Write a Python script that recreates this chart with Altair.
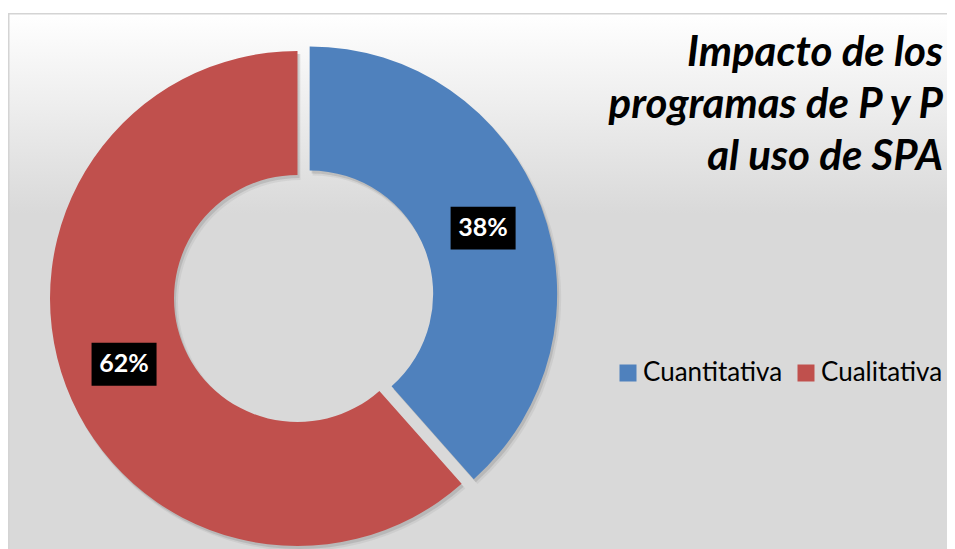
import altair as alt
import pandas as pd

# ---- data ----
CATEGORIES = ["Cuantitativa", "Cualitativa"]
VALUES = [5, 8]
COLORS = ["#4F81BD", "#C0504D"]
TITLE_LINES = ["Impacto de los", "programas de P y P", "al uso de SPA"]

df = pd.DataFrame({"category": CATEGORIES, "value": VALUES, "order": list(range(len(CATEGORIES)))})
bg_df = pd.DataFrame({"bg": [0]})

W, H = 939, 541
CX, CY = 289.5, 290.5
R_OUT, R_IN = 247.5, 123.5
R_LAB = (R_OUT + R_IN) / 2
EXPLODE = 13
FONT = "Lato"

base = (
    alt.Chart(df)
    .transform_window(cum="sum(value)", sort=[alt.SortField("order")])
    .transform_joinaggregate(total="sum(value)")
    .transform_calculate(
        pct="datum.value / datum.total",
        a0="2 * PI * (datum.cum - datum.value) / datum.total",
        a1="2 * PI * datum.cum / datum.total",
    )
    .transform_calculate(mid="(datum.a0 + datum.a1) / 2")
    .transform_calculate(ex=f"datum.category == '{CATEGORIES[0]}' ? {EXPLODE} : 0")
    .transform_calculate(
        cx=f"{CX} + datum.ex * sin(datum.mid)",
        cy=f"{CY} - datum.ex * cos(datum.mid)",
    )
    .transform_calculate(
        lx=f"datum.cx + {R_LAB} * sin(datum.mid)",
        ly=f"datum.cy - {R_LAB} * cos(datum.mid)",
    )
)

pos = dict(
    x=alt.X("cx:Q", scale=None, axis=None),
    y=alt.Y("cy:Q", scale=None, axis=None),
    theta=alt.Theta("a0:Q", scale=None, stack=False),
    theta2=alt.Theta2("a1:Q"),
)

gradient = alt.LinearGradient(
    gradient="linear",
    stops=[
        alt.GradientStop(offset=0, color="#ffffff"),
        alt.GradientStop(offset=0.36, color="#d9d9d9"),
        alt.GradientStop(offset=1, color="#d9d9d9"),
    ],
    x1=0, x2=0, y1=0, y2=1,
)

bg = alt.Chart(bg_df).mark_rect(fill=gradient, stroke="#d4d4d4", strokeWidth=1.5).encode(
    x=alt.value(0.75), x2=alt.value(W + 20), y=alt.value(5.75), y2=alt.value(H + 20)
)

shadow1 = base.mark_arc(outerRadius=R_OUT, innerRadius=R_IN, color="#7a7a7a", opacity=0.25, xOffset=2, yOffset=3).encode(**pos)
shadow2 = base.mark_arc(outerRadius=R_OUT + 1, innerRadius=R_IN - 1, color="#7a7a7a", opacity=0.12, xOffset=3, yOffset=4).encode(**pos)

arcs = base.mark_arc(outerRadius=R_OUT, innerRadius=R_IN).encode(
    **pos,
    color=alt.Color(
        "category:N",
        scale=alt.Scale(domain=CATEGORIES, range=COLORS),
        sort=CATEGORIES,
        legend=alt.Legend(
            orient="none",
            legendX=607,
            legendY=352,
            padding=0,
            direction="horizontal",
            title=None,
            symbolType="square",
            symbolSize=289,
            symbolStrokeWidth=0,
            labelFont=FONT,
            labelFontSize=26,
            labelColor="#000000",
            columnPadding=10,
            labelOffset=2,
        ),
    ),
)

boxes = base.mark_point(
    shape="M-1,-0.66L1,-0.66L1,0.66L-1,0.66Z", size=4225, filled=True, color="black", opacity=1
).encode(
    x=alt.X("lx:Q", scale=None, axis=None),
    y=alt.Y("ly:Q", scale=None, axis=None),
)

labels = base.mark_text(color="white", font=FONT, fontWeight="bold", fontSize=25, baseline="middle", align="center").encode(
    x=alt.X("lx:Q", scale=None, axis=None),
    y=alt.Y("ly:Q", scale=None, axis=None),
    text=alt.Text("pct:Q", format=".0%"),
)

title = alt.Chart(bg_df).mark_text(
    align="right", baseline="top", font=FONT, fontStyle="italic", fontWeight="bold",
    fontSize=42, lineHeight=52, color="#000000",
).encode(x=alt.value(935), y=alt.value(25), text=alt.value(TITLE_LINES))

chart = (
    alt.layer(bg, shadow2, shadow1, arcs, boxes, labels, title)
    .properties(width=W, height=H, autosize=alt.AutoSizeParams(type="none"), padding=0, background="white")
    .configure_view(stroke=None)
)

chart.save("out.html", embed_options={"renderer": "svg", "actions": False})
